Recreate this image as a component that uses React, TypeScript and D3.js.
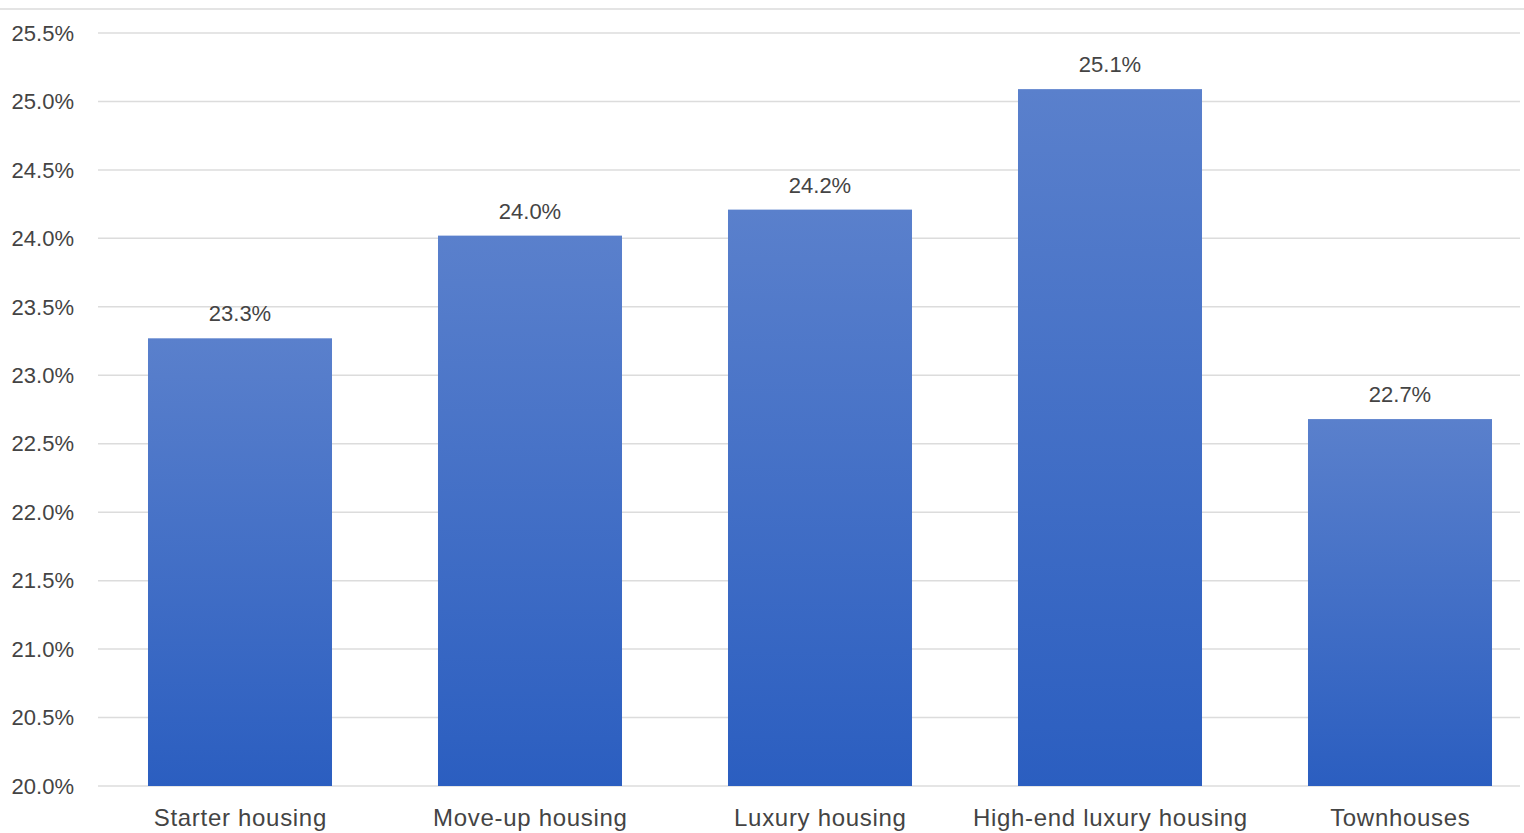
import React from "react";
import * as d3 from "d3";

const categories = ["Starter housing", "Move-up housing", "Luxury housing", "High-end luxury housing", "Townhouses"];
const values = [23.27, 24.02, 24.21, 25.09, 22.68];
const yTicks = [20.0, 20.5, 21.0, 21.5, 22.0, 22.5, 23.0, 23.5, 24.0, 24.5, 25.0, 25.5];

const W = 1524;
const H = 833;

export default function App() {
  const y = d3.scaleLinear().domain([20, 25.5]).range([786, 33]);
  const x = d3.scaleBand<string>().domain(categories).range([95, 1545]).paddingInner(0.3655).paddingOuter(0.18275);
  const font = "'Liberation Sans', Arial, Helvetica, sans-serif";
  return (
    <svg width={W} height={H} style={{ position: "absolute", left: 0, top: 0, background: "#fff" }} fontFamily={font}>
      <defs>
        <linearGradient id="barGrad" x1="0" y1="0" x2="0" y2="1">
          <stop offset="0%" stopColor="#5a80cc" />
          <stop offset="100%" stopColor="#2b5ec0" />
        </linearGradient>
      </defs>
      <line x1={0} x2={W} y1={9} y2={9} stroke="#e4e4e4" strokeWidth={2} />
      {yTicks.map((t) => (
        <g key={t}>
          <line x1={98} x2={1520} y1={y(t)} y2={y(t)} stroke="#dcdcdc" strokeWidth={1.5} />
          <text x={74} y={y(t)} dy="0.35em" textAnchor="end" fontSize={22} fill="#444">
            {t.toFixed(1) + "%"}
          </text>
        </g>
      ))}
      {categories.map((c, i) => {
        const bx = x(c)!;
        const bw = x.bandwidth();
        const top = y(values[i]);
        return (
          <g key={c}>
            <rect x={bx} y={top} width={bw} height={y(20) - top} fill="url(#barGrad)" />
            <text x={bx + bw / 2} y={top - 17} textAnchor="middle" fontSize={22} fill="#444">
              {values[i].toFixed(1) + "%"}
            </text>
            <text x={bx + bw / 2 + 0.35} y={826} textAnchor="middle" fontSize={24} letterSpacing={0.7} fill="#444">
              {c}
            </text>
          </g>
        );
      })}
    </svg>
  );
}
